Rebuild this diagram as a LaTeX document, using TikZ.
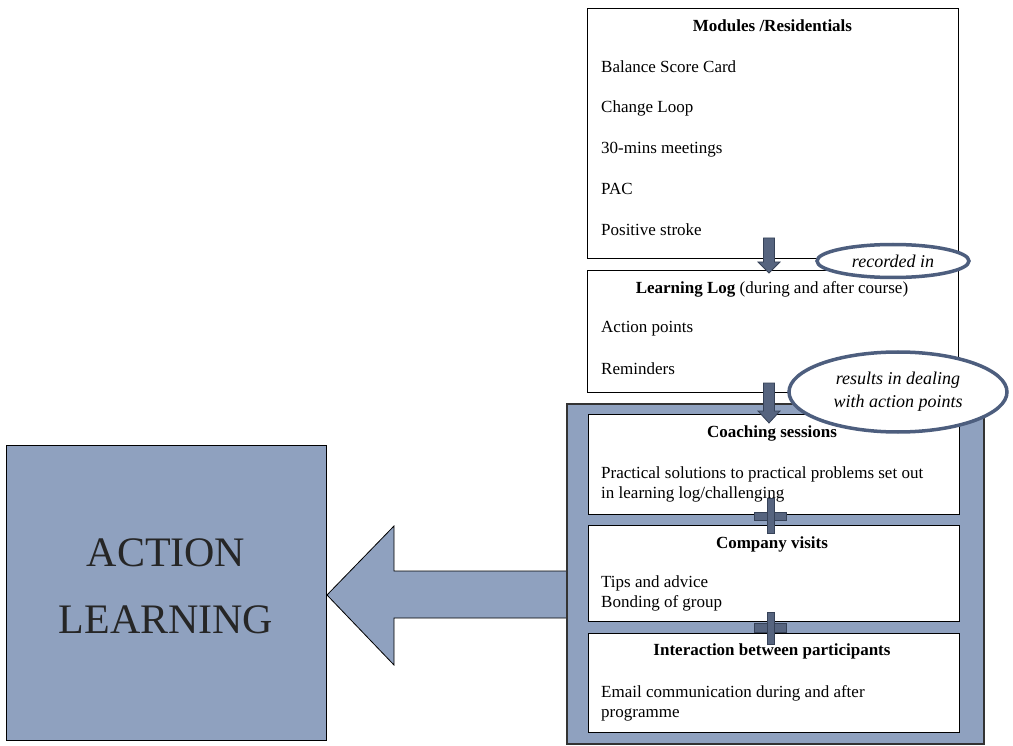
\documentclass[tikz,border=0pt]{standalone}
\usepackage{fontspec}
\setmainfont{Liberation Serif}
\usetikzlibrary{shapes.geometric}
\definecolor{slate}{HTML}{8FA1BF}
\definecolor{darkslate}{HTML}{56647F}
\definecolor{edgeblue}{HTML}{4D5E7E}
\begin{document}
\begin{tikzpicture}[x=1pt,y=-1pt,
  whitebox/.style={draw=black, line width=1.3pt, fill=white, inner sep=0pt, anchor=north west},
  txt/.style={anchor=base west, inner sep=0pt, font=\fontsize{17}{20}\selectfont},
  ttl/.style={anchor=base, inner sep=0pt, font=\fontsize{17}{20}\selectfont\bfseries},
  note/.style={ellipse, draw=edgeblue, line width=3.5pt, fill=white, inner sep=0pt, align=center, font=\fontsize{18}{23}\selectfont\itshape},
  blockarrow/.style={fill=darkslate, draw=edgeblue!70!black, line width=0.8pt},
  bigtxt/.style={anchor=base, inner sep=0pt, font=\fontsize{42}{50}\selectfont, text=black!85}
]
\useasboundingbox (0,0) rectangle (1013,746);

% Action learning box and big arrow
\node[draw=black, fill=slate, line width=1pt, minimum width=320pt, minimum height=295pt, anchor=north west, inner sep=0pt] (al) at (6,445) {};
\node[bigtxt] (alt1) at (166,566) {ACTION};
\node[bigtxt] (alt2) at (166,633) {LEARNING};
\draw[fill=slate, draw=black, line width=0.8pt] (568,571) -- (394,571) -- (394,526) -- (al.east |- 0,595) -- (394,665) -- (394,618) -- (568,618) -- cycle;

% outer frame
\node[draw=black!80, fill=slate, line width=1.5pt, minimum width=417pt, minimum height=340pt, anchor=north west, inner sep=0pt] (frame) at (566,403) {};

% Modules box
\node[whitebox, minimum width=371pt, minimum height=250pt] (mod) at (587,8) {};
\node[ttl] (modt) at (772.5,32) {Modules /Residentials};
\node[txt] (m1) at (601,73) {Balance Score Card};
\node[txt] (m2) at (601,113) {Change Loop};
\node[txt] (m3) at (601,154) {30-mins meetings};
\node[txt] (m4) at (601,195) {PAC};
\node[txt] (m5) at (601,236) {Positive stroke};

% Learning log box
\node[whitebox, minimum width=371pt, minimum height=122pt] (log) at (587,270) {};
\node[anchor=base, inner sep=0pt, font=\fontsize{17}{20}\selectfont] (logt) at (772,294) {\textbf{Learning Log} (during and after course)};
\node[txt] (l1) at (601,333) {Action points};
\node[txt] (l2) at (601,374) {Reminders};

% inner boxes
\node[whitebox, minimum width=371pt, minimum height=100pt] (coach) at (588,414) {};
\node[ttl] (coacht) at (772,437) {Coaching sessions};
\node[txt] (c1) at (601,478) {Practical solutions to practical problems set out};
\node[txt] (c2) at (601,498) {in learning log/challenging};

\node[whitebox, minimum width=371pt, minimum height=96pt] (comp) at (588,525) {};
\node[ttl] (compt) at (772,548) {Company visits};
\node[txt] (p1) at (601,587) {Tips and advice};
\node[txt] (p2) at (601,607) {Bonding of group};

\node[whitebox, minimum width=371pt, minimum height=99pt] (inter) at (588,633) {};
\node[ttl] (intert) at (772,655) {Interaction between participants};
\node[txt] (i1) at (601,697) {Email communication during and after};
\node[txt] (i2) at (601,717) {programme};

% crosses between inner boxes
\draw[blockarrow] (754,512) rectangle (786,520);
\draw[blockarrow] (767,498) rectangle (774,533);
\draw[blockarrow] (754,623) rectangle (786,632);
\draw[blockarrow] (767,612) rectangle (774,644);

% down arrows
\draw[blockarrow] (763.5,238) -- (774.5,238) -- (774.5,262) -- (780,262) -- (769,273) -- (758,262) -- (763.5,262) -- cycle;
\draw[blockarrow] (763.5,383) -- (774.5,383) -- (774.5,411) -- (780,411) -- (769,423) -- (758,411) -- (763.5,411) -- cycle;

% notes
\node[note, minimum width=152pt, minimum height=33pt] (rec) at (893,261) {recorded in};
\node[note, minimum width=218pt, minimum height=80pt] (res) at (898,392) {results in dealing\\with action points};
\end{tikzpicture}
\end{document}
